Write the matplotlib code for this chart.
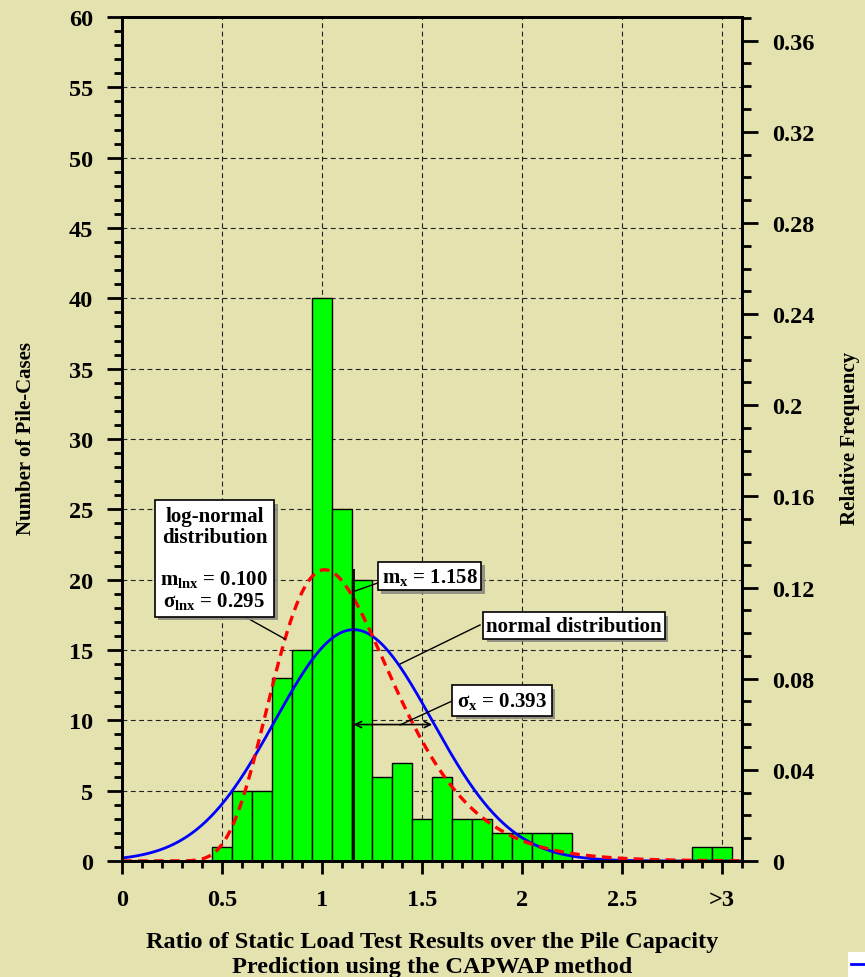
import numpy as np
import matplotlib
matplotlib.use('Agg')
import matplotlib.pyplot as plt
from matplotlib import patheffects as pe
from matplotlib.ticker import MultipleLocator, FixedLocator, FixedFormatter
from matplotlib.patches import Rectangle
from matplotlib.lines import Line2D

# ---------------- data ----------------
bin_centers = [0.5, 0.6, 0.7, 0.8, 0.9, 1.0, 1.1, 1.2, 1.3, 1.4, 1.5, 1.6,
               1.7, 1.8, 1.9, 2.0, 2.1, 2.2, 2.9, 3.0]
counts = [1, 5, 5, 13, 15, 40, 25, 20, 6, 7, 3, 6, 3, 3, 2, 2, 2, 2, 1, 1]
bin_width = 0.1
n_cases = sum(counts)  # 162

mean_x = 1.158
sd_x = 0.393
mean_lnx = 0.100
sd_lnx = 0.295

x_tick_vals = [0, 0.5, 1.0, 1.5, 2.0, 2.5, 3.0]
x_tick_labels = ['0', '0.5', '1', '1.5', '2', '2.5', '>3']
rel_ticks = [0, 0.04, 0.08, 0.12, 0.16, 0.2, 0.24, 0.28, 0.32, 0.36]
rel_labels = ['0', '0.04', '0.08', '0.12', '0.16', '0.2', '0.24', '0.28', '0.32', '0.36']

# ---------------- style ----------------
plt.rcParams['font.family'] = ['Liberation Serif', 'DejaVu Serif']
plt.rcParams['font.weight'] = 'bold'
plt.rcParams['mathtext.fontset'] = 'custom'
plt.rcParams['mathtext.rm'] = 'Liberation Serif:bold'
plt.rcParams['mathtext.it'] = 'Liberation Serif:bold'
plt.rcParams['mathtext.bf'] = 'Liberation Serif:bold'
plt.rcParams['lines.scale_dashes'] = False

bg = '#E4E2AF'

fig = plt.figure(figsize=(8.65, 9.78), dpi=100, facecolor=bg)
ax = fig.add_axes([122/865, 1-862/978, 620/865, 844/978])
ax.set_facecolor(bg)

# bars
ax.bar(bin_centers, counts, width=bin_width, color='#00FF00', edgecolor='black',
       linewidth=1.0, zorder=2)

# fitted curves (scaled to counts)
scale = n_cases * bin_width
xs = np.linspace(0.0005, 3.1, 800)
normal_curve = scale * np.exp(-(xs - mean_x)**2 / (2*sd_x**2)) / (sd_x*np.sqrt(2*np.pi))
logn_curve = scale * np.exp(-(np.log(xs) - mean_lnx)**2 / (2*sd_lnx**2)) / (xs*sd_lnx*np.sqrt(2*np.pi))
ax.plot(xs, normal_curve, color='#0000FF', lw=2.0, zorder=4, solid_capstyle='butt')
ax.plot(xs, logn_curve, color='#FF0000', lw=2.4, dashes=(7, 4.5), zorder=5)

# grid
ax.set_axisbelow(True)
ax.grid(True, which='major', color='#222222', lw=0.8, linestyle=(0, (3.5, 2.5)), zorder=0)

ax.set_xlim(0, 3.1)
ax.set_ylim(0, 60)

ax.xaxis.set_major_locator(FixedLocator(x_tick_vals))
ax.xaxis.set_major_formatter(FixedFormatter(x_tick_labels))
ax.xaxis.set_minor_locator(MultipleLocator(0.1))
ax.yaxis.set_major_locator(MultipleLocator(5))
ax.yaxis.set_minor_locator(MultipleLocator(1))

for sp in ax.spines.values():
    sp.set_linewidth(2.0)
    sp.set_zorder(6)

ax.tick_params(axis='x', which='major', direction='out', length=9.5, width=2, labelsize=17.5, pad=11)
ax.tick_params(axis='x', which='minor', direction='out', length=5, width=2)
ax.tick_params(axis='y', which='major', direction='out', length=11, width=2, labelsize=17.5, pad=10)
ax.tick_params(axis='y', which='minor', direction='out', length=6, width=2)

ax.set_ylabel('Number of Pile-Cases', fontsize=15, fontweight='bold')
ax.yaxis.set_label_coords(-0.138, 0.502)
ax.set_xlabel('Ratio of Static Load Test Results over the Pile Capacity\nPrediction using the CAPWAP method',
              fontsize=17.5, fontweight='bold', linespacing=1.22)
ax.xaxis.set_label_coords(0.5, -0.083)

# right axis
ax2 = ax.twinx()
ax2.set_ylim(0, 60 / n_cases)
ax2.yaxis.set_major_locator(FixedLocator(rel_ticks))
ax2.yaxis.set_major_formatter(FixedFormatter(rel_labels))
ax2.yaxis.set_minor_locator(MultipleLocator(0.01))
ax2.tick_params(axis='y', which='major', direction='out', length=11.5, width=2, labelsize=17.5, pad=10)
ax2.tick_params(axis='y', which='minor', direction='out', length=6.5, width=2)
for sp in ax2.spines.values():
    sp.set_linewidth(2.0)
ax2.set_ylabel('Relative Frequency', fontsize=15, fontweight='bold', rotation=90)
ax2.yaxis.set_label_coords(1.158, 0.502)

# annotations
shadow = [pe.SimplePatchShadow(offset=(2.5, -2.5), shadow_rgbFace='#8a8a80', alpha=0.9), pe.Normal()]

def box(x, y, s, pad=0.15, **kw):
    t = ax.text(x, y, s, ha='center', va='center', fontsize=15, fontweight='bold',
                multialignment='center', zorder=8,
                bbox=dict(boxstyle=f'square,pad={pad}', fc='white', ec='black', lw=1.2), **kw)
    t.get_bbox_patch().set_path_effects(shadow)
    return t

box(0.4625, 21.5, 'log-normal\ndistribution\n\nm$_{\\rm lnx}$ = 0.100\nσ$_{\\rm lnx}$ = 0.295',
    pad=0.28, linespacing=1.05)
box(1.5375, 20.26, 'm$_{\\rm x}$ = 1.158', pad=0.18)
box(2.26, 16.74, 'normal distribution', pad=0.15)
box(1.90, 11.41, 'σ$_{\\rm x}$ = 0.393', pad=0.22)

lk = dict(color='black', lw=1.0, zorder=7)
ax.plot([0.59, 0.815], [17.56, 15.78], **lk)
ax.plot([1.305, 1.165], [19.9, 19.19], **lk)
ax.plot([1.79, 1.39], [16.78, 14.0], **lk)
ax.plot([1.65, 1.39], [11.37, 9.67], **lk)

ax.vlines(mean_x, 0, 20.75, color='black', lw=1.3, zorder=7)
ax.annotate('', xy=(mean_x, 9.7), xytext=(mean_x + sd_x, 9.7),
            arrowprops=dict(arrowstyle='<->', lw=1.2, color='black', shrinkA=0, shrinkB=0,
                            mutation_scale=11), zorder=7)

# cut-off legend fragment in the lower-right corner
fig.patches.append(Rectangle((848/865, 0), 17/865, 25/978, transform=fig.transFigure,
                             fc='white', ec='none'))
fig.lines.append(Line2D([851/865, 1], [1-965/978, 1-965/978], transform=fig.transFigure,
                        color='#0000FF', lw=2))

fig.savefig('out.png', dpi=100, facecolor=bg)
